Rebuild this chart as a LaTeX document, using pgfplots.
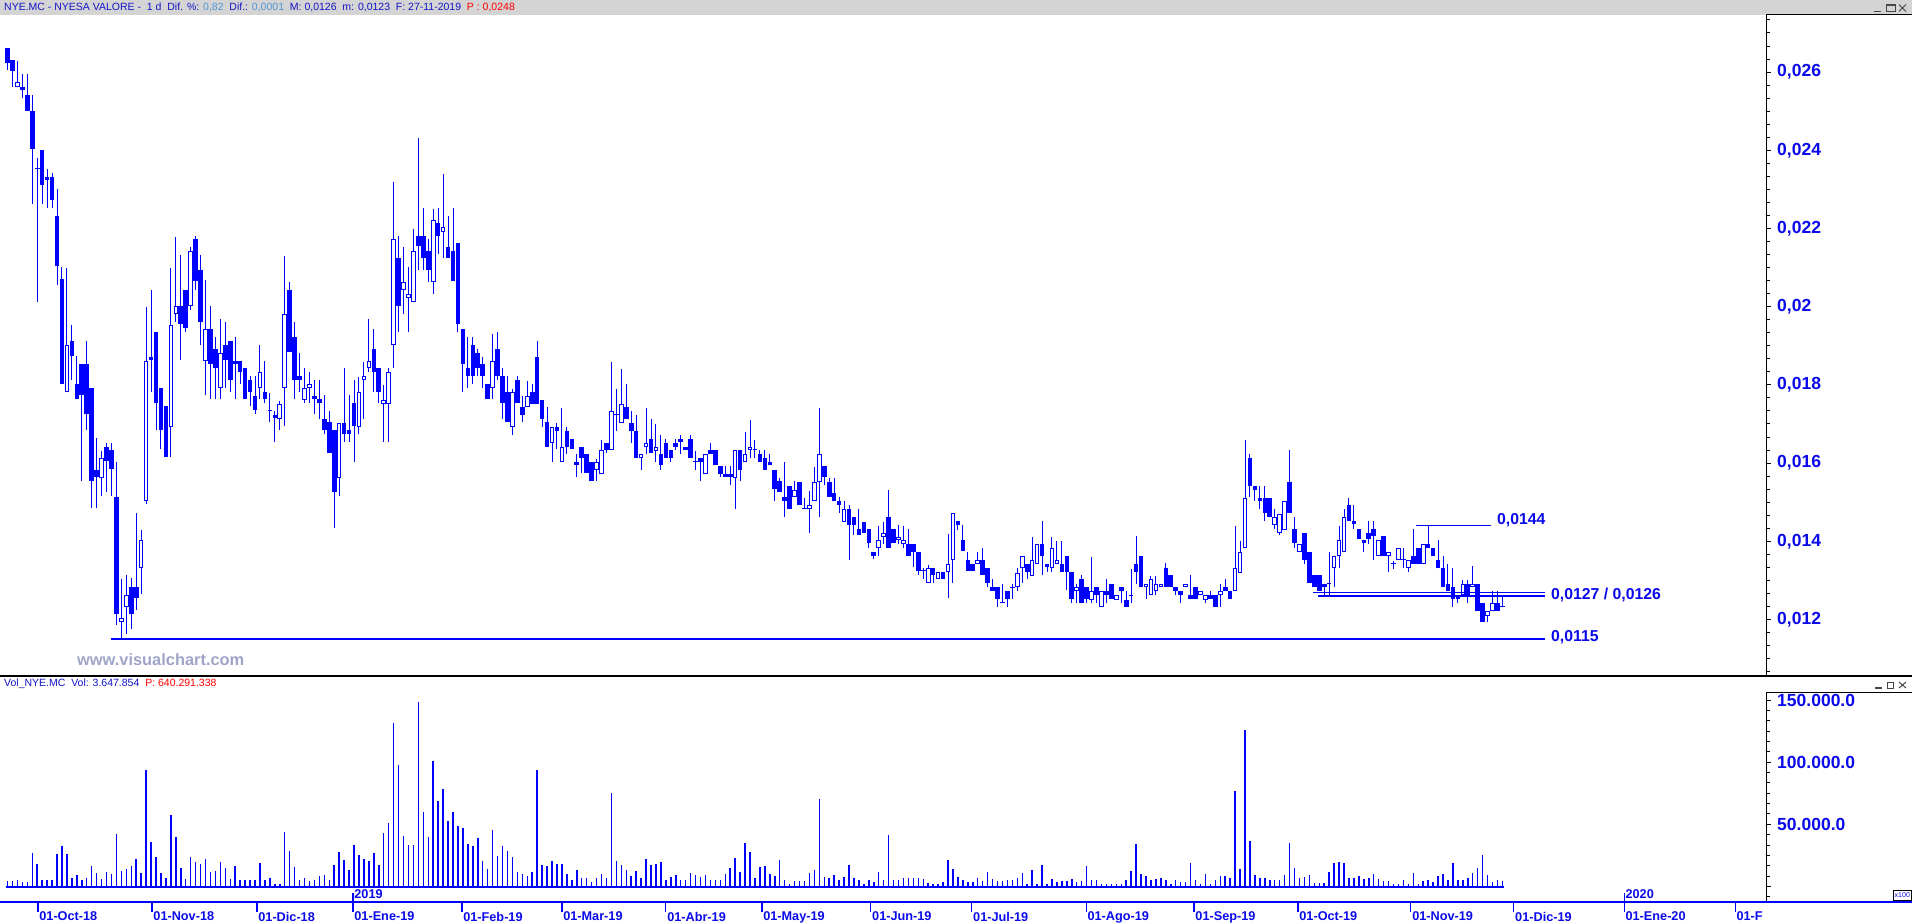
\documentclass[border=0pt]{standalone}
\usepackage{pgfplots}
\pgfplotsset{compat=1.18}
\usepackage{pgfplotstable}
\usepackage{fontspec}
\setmainfont{Liberation Sans}

\definecolor{candle}{RGB}{0,0,255}
\definecolor{lblblue}{RGB}{10,10,235}
\definecolor{hdrblue}{RGB}{20,20,200}
\definecolor{ltblue}{RGB}{80,150,215}
\definecolor{hdrgray}{RGB}{212,212,212}
\definecolor{wmark}{RGB}{160,165,200}
\definecolor{pred}{RGB}{255,0,0}
\definecolor{icon}{RGB}{70,70,70}

\newcommand\axfont{\fontsize{17.5}{18}\selectfont\bfseries}
\newcommand\datefont{\fontsize{12.7}{13}\selectfont\bfseries}
\newcommand\lvlfont{\fontsize{15.8}{16}\selectfont\bfseries}

% daily candles: index, open, high, low, close, volume (x100)
\pgfplotstableread{
i o h l c v
0 0.02662 0.02662 0.02605 0.02622 4301
1 0.02632 0.02632 0.02563 0.02604 4301
2 0.02561 0.02629 0.02561 0.02574 5376
3 0.02561 0.02594 0.02533 0.02553 3494
4 0.02541 0.02594 0.02501 0.02501 3494
5 0.02501 0.02541 0.02263 0.02403 26611
6 0.02352 0.02379 0.02012 0.02352 17741
7 0.02402 0.02402 0.02263 0.02312 4838
8 0.02332 0.02352 0.02253 0.02324 4838
9 0.02332 0.02342 0.02253 0.02273 5376
10 0.02233 0.02302 0.02056 0.02103 25805
11 0.02071 0.02101 0.01803 0.01803 32256
12 0.01781 0.02098 0.01781 0.01901 25805
13 0.01911 0.01954 0.01813 0.01873 6989
14 0.01803 0.01873 0.01763 0.01763 8870
15 0.01853 0.01853 0.01553 0.01773 5376
16 0.01853 0.01911 0.01684 0.01725 6989
17 0.01793 0.01793 0.01485 0.01553 16128
18 0.01583 0.01663 0.01485 0.01564 10752
19 0.01561 0.01630 0.01515 0.01613 6182
20 0.01641 0.01652 0.01525 0.01606 11290
21 0.01633 0.01652 0.01515 0.01584 9677
22 0.01514 0.01603 0.01186 0.01214 41933
23 0.01194 0.01303 0.01153 0.01204 12096
24 0.01232 0.01313 0.01164 0.01262 13709
25 0.01282 0.01305 0.01176 0.01214 16128
26 0.01282 0.01473 0.01224 0.01254 21773
27 0.01331 0.01429 0.01264 0.01404 10483
28 0.01503 0.02000 0.01495 0.01861 93542
29 0.01872 0.02043 0.01783 0.01864 35482
30 0.01934 0.01934 0.01684 0.01753 23386
31 0.01793 0.01793 0.01636 0.01684 10483
32 0.01745 0.01745 0.01616 0.01616 6451
33 0.01692 0.02099 0.01616 0.01954 57254
34 0.01982 0.02177 0.01962 0.02002 39514
35 0.02002 0.02132 0.01863 0.01955 14515
36 0.02043 0.02043 0.01935 0.01945 6182
37 0.02002 0.02152 0.01992 0.02142 23386
38 0.02172 0.02180 0.02043 0.02066 19354
39 0.02093 0.02132 0.01902 0.01962 17741
40 0.01861 0.02069 0.01773 0.01942 21773
41 0.01942 0.02002 0.01763 0.01854 11290
42 0.01891 0.01923 0.01763 0.01844 12096
43 0.01791 0.01969 0.01763 0.01881 19354
44 0.01901 0.01962 0.01793 0.01863 14515
45 0.01911 0.01911 0.01783 0.01813 6182
46 0.01861 0.01923 0.01763 0.01854 16128
47 0.01861 0.01861 0.01803 0.01834 4838
48 0.01843 0.01843 0.01763 0.01763 5376
49 0.01813 0.01823 0.01745 0.01783 5376
50 0.01772 0.01822 0.01725 0.01735 5376
51 0.01791 0.01901 0.01763 0.01833 18547
52 0.01782 0.01861 0.01753 0.01763 4838
53 0.01732 0.01780 0.01704 0.01732 6451
54 0.01722 0.01732 0.01654 0.01715 2150
55 0.01712 0.01760 0.01684 0.01752 2150
56 0.01791 0.02130 0.01694 0.01982 43546
57 0.02043 0.02064 0.01884 0.01884 28224
58 0.01923 0.01962 0.01763 0.01813 15322
59 0.01823 0.01881 0.01783 0.01813 5376
60 0.01761 0.01843 0.01753 0.01793 6451
61 0.01793 0.01833 0.01753 0.01803 4301
62 0.01772 0.01813 0.01725 0.01763 5376
63 0.01763 0.01813 0.01712 0.01753 8064
64 0.01712 0.01773 0.01674 0.01684 9139
65 0.01704 0.01732 0.01626 0.01626 5376
66 0.01684 0.01684 0.01434 0.01525 16934
67 0.01561 0.01702 0.01515 0.01702 27418
68 0.01702 0.01844 0.01654 0.01674 20966
69 0.01684 0.01773 0.01654 0.01674 12902
70 0.01753 0.01813 0.01603 0.01694 33062
71 0.01692 0.01820 0.01674 0.01783 24998
72 0.01812 0.01859 0.01712 0.01822 21773
73 0.01843 0.01969 0.01834 0.01861 20160
74 0.01891 0.01944 0.01783 0.01834 26611
75 0.01843 0.01843 0.01753 0.01783 16934
76 0.01752 0.01800 0.01654 0.01762 42739
77 0.01752 0.01843 0.01654 0.01833 50803
78 0.01901 0.02319 0.01844 0.02172 131443
79 0.02124 0.02182 0.01935 0.02002 97574
80 0.02043 0.02152 0.01982 0.02063 40320
81 0.02023 0.02101 0.01935 0.02033 33062
82 0.02012 0.02199 0.02012 0.02142 33062
83 0.02182 0.02432 0.02093 0.02154 148378
84 0.02182 0.02253 0.02093 0.02124 59674
85 0.02142 0.02174 0.02063 0.02093 39514
86 0.02063 0.02250 0.02033 0.02221 100800
87 0.02213 0.02253 0.02134 0.02182 68544
88 0.02190 0.02339 0.02124 0.02203 78221
89 0.02152 0.02233 0.02124 0.02124 52416
90 0.02142 0.02253 0.02065 0.02065 59674
91 0.02162 0.02162 0.01935 0.01955 48384
92 0.01944 0.01944 0.01783 0.01854 46771
93 0.01844 0.01923 0.01793 0.01823 33869
94 0.01901 0.01923 0.01803 0.01823 32256
95 0.01881 0.01891 0.01823 0.01844 38707
96 0.01854 0.01871 0.01793 0.01823 20160
97 0.01803 0.01803 0.01763 0.01763 13709
98 0.01791 0.01930 0.01763 0.01861 45158
99 0.01891 0.01934 0.01813 0.01823 24192
100 0.01823 0.01843 0.01713 0.01753 32256
101 0.01783 0.01823 0.01704 0.01704 28224
102 0.01692 0.01789 0.01672 0.01783 23386
103 0.01813 0.01823 0.01753 0.01753 11290
104 0.01743 0.01772 0.01704 0.01723 9677
105 0.01743 0.01809 0.01743 0.01772 8064
106 0.01783 0.01802 0.01751 0.01751 11290
107 0.01872 0.01912 0.01751 0.01751 93542
108 0.01762 0.01762 0.01693 0.01713 16934
109 0.01704 0.01743 0.01642 0.01642 16128
110 0.01651 0.01692 0.01604 0.01692 20160
111 0.01692 0.01702 0.01635 0.01683 17741
112 0.01602 0.01740 0.01602 0.01640 17741
113 0.01682 0.01692 0.01623 0.01642 9677
114 0.01661 0.01661 0.01635 0.01635 4838
115 0.01604 0.01623 0.01564 0.01594 12902
116 0.01640 0.01640 0.01574 0.01614 6451
117 0.01623 0.01623 0.01574 0.01574 6451
118 0.01602 0.01602 0.01553 0.01553 3226
119 0.01583 0.01611 0.01553 0.01602 6451
120 0.01571 0.01659 0.01571 0.01634 9677
121 0.01651 0.01651 0.01625 0.01634 6451
122 0.01634 0.01858 0.01634 0.01733 74995
123 0.01723 0.01789 0.01683 0.01723 20160
124 0.01702 0.01841 0.01702 0.01750 16934
125 0.01743 0.01802 0.01713 0.01713 12902
126 0.01702 0.01733 0.01652 0.01683 8064
127 0.01682 0.01723 0.01614 0.01614 12096
128 0.01612 0.01623 0.01583 0.01623 6451
129 0.01640 0.01740 0.01623 0.01651 21773
130 0.01661 0.01713 0.01625 0.01625 16934
131 0.01632 0.01700 0.01604 0.01640 17741
132 0.01623 0.01672 0.01583 0.01594 19354
133 0.01651 0.01662 0.01614 0.01614 4838
134 0.01634 0.01634 0.01604 0.01614 7258
135 0.01651 0.01662 0.01634 0.01642 8870
136 0.01662 0.01672 0.01623 0.01653 4838
137 0.01642 0.01642 0.01634 0.01634 5376
138 0.01662 0.01672 0.01614 0.01614 10483
139 0.01602 0.01631 0.01583 0.01602 8870
140 0.01614 0.01614 0.01553 0.01604 7258
141 0.01571 0.01623 0.01571 0.01623 8870
142 0.01634 0.01651 0.01623 0.01623 4838
143 0.01634 0.01634 0.01594 0.01594 5376
144 0.01593 0.01593 0.01564 0.01572 4838
145 0.01572 0.01593 0.01564 0.01564 9677
146 0.01572 0.01593 0.01543 0.01564 14515
147 0.01561 0.01634 0.01483 0.01634 22579
148 0.01634 0.01634 0.01553 0.01583 11290
149 0.01602 0.01679 0.01602 0.01623 34675
150 0.01634 0.01710 0.01614 0.01640 27418
151 0.01634 0.01659 0.01614 0.01633 6451
152 0.01623 0.01634 0.01604 0.01604 15322
153 0.01614 0.01634 0.01583 0.01583 16128
154 0.01602 0.01623 0.01594 0.01594 9677
155 0.01583 0.01583 0.01503 0.01533 8064
156 0.01553 0.01563 0.01525 0.01525 20966
157 0.01513 0.01602 0.01463 0.01504 4838
158 0.01542 0.01542 0.01483 0.01483 2150
159 0.01513 0.01553 0.01513 0.01531 4032
160 0.01551 0.01551 0.01494 0.01494 4032
161 0.01482 0.01510 0.01482 0.01482 4032
162 0.01482 0.01529 0.01422 0.01492 10483
163 0.01502 0.01591 0.01502 0.01551 12902
164 0.01551 0.01740 0.01463 0.01623 70157
165 0.01593 0.01593 0.01543 0.01564 7258
166 0.01551 0.01563 0.01514 0.01514 6451
167 0.01523 0.01561 0.01504 0.01504 8870
168 0.01502 0.01513 0.01473 0.01493 5376
169 0.01450 0.01502 0.01450 0.01482 7258
170 0.01482 0.01493 0.01352 0.01442 16934
171 0.01461 0.01461 0.01416 0.01442 6451
172 0.01431 0.01482 0.01415 0.01415 4838
173 0.01450 0.01450 0.01422 0.01422 2150
174 0.01431 0.01431 0.01384 0.01395 4838
175 0.01372 0.01372 0.01354 0.01363 3226
176 0.01382 0.01439 0.01363 0.01404 11290
177 0.01412 0.01450 0.01393 0.01421 4838
178 0.01461 0.01531 0.01384 0.01384 41126
179 0.01431 0.01431 0.01395 0.01395 5376
180 0.01404 0.01442 0.01393 0.01412 4838
181 0.01393 0.01439 0.01384 0.01404 6989
182 0.01393 0.01431 0.01363 0.01363 6989
183 0.01393 0.01393 0.01333 0.01372 6989
184 0.01372 0.01372 0.01314 0.01323 6451
185 0.01323 0.01331 0.01304 0.01323 5914
186 0.01293 0.01339 0.01293 0.01331 2957
187 0.01331 0.01331 0.01294 0.01314 1613
188 0.01304 0.01321 0.01304 0.01321 1613
189 0.01321 0.01321 0.01304 0.01304 3226
190 0.01321 0.01419 0.01254 0.01341 20966
191 0.01351 0.01472 0.01294 0.01472 13709
192 0.01452 0.01452 0.01430 0.01442 7258
193 0.01404 0.01442 0.01374 0.01374 4838
194 0.01352 0.01372 0.01323 0.01323 3226
195 0.01341 0.01341 0.01323 0.01323 3226
196 0.01342 0.01372 0.01342 0.01352 6989
197 0.01352 0.01382 0.01314 0.01314 4301
198 0.01331 0.01331 0.01284 0.01294 11558
199 0.01282 0.01304 0.01274 0.01274 6182
200 0.01282 0.01282 0.01233 0.01253 4032
201 0.01243 0.01292 0.01241 0.01241 4032
202 0.01274 0.01274 0.01233 0.01253 4838
203 0.01282 0.01292 0.01252 0.01281 5376
204 0.01282 0.01331 0.01274 0.01320 6989
205 0.01331 0.01362 0.01294 0.01362 10483
206 0.01342 0.01342 0.01304 0.01322 2150
207 0.01312 0.01412 0.01312 0.01352 12902
208 0.01341 0.01393 0.01341 0.01393 2150
209 0.01393 0.01452 0.01314 0.01362 16934
210 0.01342 0.01342 0.01322 0.01333 2150
211 0.01331 0.01412 0.01322 0.01383 6182
212 0.01342 0.01401 0.01342 0.01352 3226
213 0.01342 0.01401 0.01322 0.01322 4301
214 0.01362 0.01362 0.01275 0.01322 4301
215 0.01322 0.01322 0.01243 0.01253 6182
216 0.01272 0.01292 0.01243 0.01282 3226
217 0.01303 0.01314 0.01243 0.01243 4032
218 0.01282 0.01282 0.01243 0.01253 16128
219 0.01251 0.01360 0.01243 0.01272 5376
220 0.01282 0.01282 0.01243 0.01263 4838
221 0.01231 0.01272 0.01231 0.01272 2150
222 0.01272 0.01303 0.01243 0.01263 2150
223 0.01292 0.01292 0.01253 0.01253 2150
224 0.01251 0.01262 0.01251 0.01262 2150
225 0.01282 0.01282 0.01243 0.01274 2150
226 0.01251 0.01272 0.01233 0.01233 4838
227 0.01262 0.01328 0.01243 0.01261 12096
228 0.01341 0.01413 0.01292 0.01322 33869
229 0.01362 0.01362 0.01284 0.01284 9677
230 0.01282 0.01292 0.01253 0.01292 8064
231 0.01262 0.01312 0.01262 0.01303 5376
232 0.01272 0.01312 0.01262 0.01292 6182
233 0.01282 0.01292 0.01282 0.01292 6451
234 0.01331 0.01345 0.01284 0.01284 4838
235 0.01314 0.01314 0.01284 0.01284 2150
236 0.01282 0.01282 0.01262 0.01274 5376
237 0.01272 0.01272 0.01243 0.01263 3226
238 0.01282 0.01292 0.01282 0.01292 3226
239 0.01262 0.01314 0.01253 0.01253 18547
240 0.01282 0.01282 0.01253 0.01253 4838
241 0.01262 0.01272 0.01262 0.01272 2150
242 0.01251 0.01262 0.01243 0.01262 9677
243 0.01262 0.01272 0.01253 0.01253 2150
244 0.01262 0.01262 0.01233 0.01233 5376
245 0.01262 0.01292 0.01233 0.01272 8064
246 0.01282 0.01303 0.01272 0.01272 8064
247 0.01272 0.01272 0.01253 0.01253 6989
248 0.01272 0.01439 0.01272 0.01331 76608
249 0.01320 0.01401 0.01320 0.01372 13709
250 0.01382 0.01659 0.01382 0.01512 125798
251 0.01613 0.01623 0.01514 0.01542 36288
252 0.01542 0.01542 0.01504 0.01532 8870
253 0.01512 0.01542 0.01482 0.01504 6451
254 0.01512 0.01542 0.01453 0.01473 6989
255 0.01512 0.01512 0.01463 0.01463 5376
256 0.01441 0.01482 0.01431 0.01461 5376
257 0.01420 0.01471 0.01416 0.01471 5376
258 0.01430 0.01503 0.01430 0.01503 8870
259 0.01551 0.01633 0.01473 0.01473 34675
260 0.01431 0.01461 0.01384 0.01395 14515
261 0.01372 0.01393 0.01372 0.01393 6989
262 0.01422 0.01422 0.01343 0.01352 7258
263 0.01372 0.01372 0.01294 0.01294 8870
264 0.01314 0.01314 0.01284 0.01284 2957
265 0.01314 0.01314 0.01272 0.01272 2957
266 0.01292 0.01292 0.01262 0.01282 2957
267 0.01292 0.01372 0.01262 0.01291 11290
268 0.01331 0.01362 0.01284 0.01362 18547
269 0.01362 0.01439 0.01331 0.01403 19354
270 0.01372 0.01482 0.01372 0.01461 18547
271 0.01492 0.01512 0.01453 0.01453 6451
272 0.01452 0.01492 0.01431 0.01443 6451
273 0.01431 0.01431 0.01405 0.01405 8064
274 0.01403 0.01403 0.01373 0.01395 6182
275 0.01420 0.01452 0.01393 0.01405 6989
276 0.01431 0.01452 0.01352 0.01413 9677
277 0.01362 0.01403 0.01362 0.01403 5645
278 0.01413 0.01413 0.01362 0.01362 4032
279 0.01362 0.01372 0.01322 0.01372 4032
280 0.01343 0.01350 0.01330 0.01341 2150
281 0.01352 0.01383 0.01352 0.01383 2150
282 0.01352 0.01383 0.01331 0.01351 4838
283 0.01331 0.01352 0.01322 0.01352 2150
284 0.01362 0.01431 0.01342 0.01342 10483
285 0.01383 0.01383 0.01342 0.01342 2150
286 0.01342 0.01393 0.01342 0.01393 4032
287 0.01393 0.01441 0.01383 0.01383 4838
288 0.01383 0.01383 0.01362 0.01362 3226
289 0.01352 0.01403 0.01331 0.01331 8064
290 0.01331 0.01362 0.01284 0.01284 9677
291 0.01292 0.01342 0.01272 0.01272 4838
292 0.01282 0.01331 0.01233 0.01253 18547
293 0.01262 0.01262 0.01243 0.01253 4838
294 0.01262 0.01301 0.01262 0.01292 4838
295 0.01292 0.01301 0.01243 0.01262 6451
296 0.01282 0.01338 0.01282 0.01292 10483
297 0.01292 0.01292 0.01222 0.01222 14515
298 0.01243 0.01243 0.01194 0.01194 24998
299 0.01210 0.01222 0.01194 0.01222 8870
300 0.01221 0.01272 0.01221 0.01243 3226
301 0.01243 0.01272 0.01222 0.01222 4838
302 0.01232 0.01262 0.01231 0.01231 4032
}\nye

\begin{document}
\begin{tikzpicture}
\fill[white] (0pt,0pt) rectangle (1912pt,922pt);

% title bar
\fill[hdrgray] (0pt,907pt) rectangle (1912pt,922pt);
\node[anchor=base west, inner sep=0pt, font=\fontsize{10.5}{12}\selectfont] at (4pt,911pt)
  {\textcolor{hdrblue}{NYE.MC - NYESA VALORE -\ \ 1 d\ \ Dif. \%: }\textcolor{ltblue}{0,82}\ \ \textcolor{hdrblue}{Dif.: }\textcolor{ltblue}{0,0001}\ \ \textcolor{hdrblue}{M: 0,0126\ \ m: 0,0123\ \ F: 27-11-2019}\ \ \textcolor{pred}{P : 0,0248}};
\draw[icon, line width=1.2pt] (1874pt,910.5pt) -- (1881pt,910.5pt);
\draw[icon, line width=0.8pt] (1886.5pt,910.5pt) rectangle (1895.5pt,917.5pt);
\draw[icon, line width=1.6pt] (1886.5pt,917pt) -- (1895.5pt,917pt);
\draw[icon, line width=1pt] (1899pt,910.5pt) -- (1906pt,917.5pt) (1899pt,917.5pt) -- (1906pt,910.5pt);

% price panel
\begin{axis}[
  at={(0pt,246pt)}, anchor=south west, scale only axis,
  width=1766pt, height=661pt,
  xmin=-1.515, xmax=355.25, ymin=0.010555, ymax=0.02746,
  axis x line=none, axis y line*=right,
  y axis line style={black, line width=1pt},
  tick align=outside, major tick length=5pt, minor tick length=4pt,
  tick style={black, line width=1pt},
  ytick={0.012,0.014,0.016,0.018,0.020,0.022,0.024,0.026},
  yticklabels={{0,012},{0,014},{0,016},{0,018},{0,02},{0,022},{0,024},{0,026}},
  minor ytick={0.010666667,0.011,...,0.0274},
  yticklabel style={font=\axfont, text=lblblue, anchor=west, inner sep=0pt, xshift=6pt},
  scaled y ticks=false,
  clip bounding box=upper bound,
]
% wicks
\addplot[draw=none, error bars/.cd, y dir=plus, y explicit, error mark=none,
  error bar style={draw=candle, line width=1pt}]
  table[x=i, y=l, y error plus expr={\thisrow{h}-\thisrow{l}}] {\nye};
% bodies
\addplot[draw=none, error bars/.cd, y dir=plus, y explicit, error mark=none,
  error bar style={draw=candle, line width=4.6pt}]
  table[x=i, y expr={min(\thisrow{o},\thisrow{c})},
        y error plus expr={max(abs(\thisrow{o}-\thisrow{c}),0.0000256)}] {\nye};
% white inside of rising candles (zero length for falling ones)
\addplot[draw=none, error bars/.cd, y dir=plus, y explicit, error mark=none,
  error bar style={draw=white, line width=2.6pt}]
  table[x=i, y expr={\thisrow{o}+0.0000256},
        y error plus expr={max(\thisrow{c}-\thisrow{o}-0.0000512,0)}] {\nye};
% support / resistance levels
\addplot[candle, line width=1.2pt] coordinates {(284.5,0.0144) (299.7,0.0144)};
\addplot[candle, line width=1.2pt] coordinates {(263.7,0.0127) (310.6,0.0127)};
\addplot[candle, line width=1.2pt] coordinates {(264.7,0.0126) (310.6,0.0126)};
\addplot[candle, line width=1.2pt] coordinates {(20.9,0.0115) (310.6,0.0115)};
\node[anchor=base west, inner sep=0pt, font=\lvlfont, text=lblblue, yshift=1.1pt] at (axis cs:300.9,0.0144) {0,0144};
\node[anchor=base west, inner sep=0pt, font=\lvlfont, text=lblblue, yshift=-3.6pt] at (axis cs:311.8,0.0126) {0,0127 / 0,0126};
\node[anchor=base west, inner sep=0pt, font=\lvlfont, text=lblblue, yshift=-2.6pt] at (axis cs:311.8,0.0115) {0,0115};
\end{axis}

\node[anchor=base west, inner sep=0pt, font=\fontsize{16.4}{17}\selectfont\bfseries, text=wmark] at (77pt,256.3pt) {www.visualchart.com};

% panel separators
\draw[black, line width=1pt] (1766pt,907pt) -- (1912pt,907pt);
\draw[black, line width=1.3pt] (0pt,246pt) -- (1912pt,246pt);
\draw[black, line width=1pt] (1766pt,230pt) -- (1912pt,230pt);

% volume header
\node[anchor=base west, inner sep=0pt, font=\fontsize{10.5}{12}\selectfont] at (4pt,235.4pt)
  {\textcolor{hdrblue}{Vol\_NYE.MC\ \ Vol: 3.647.854}\ \ \textcolor{pred}{P: 640.291.338}};
\begin{scope}[yshift=-676.5pt]
\draw[icon, line width=1.2pt] (1875pt,910.5pt) -- (1882pt,910.5pt);
\draw[icon, line width=0.8pt] (1887pt,910.5pt) rectangle (1893.5pt,916.5pt);
\draw[icon, line width=1.4pt] (1887pt,916pt) -- (1893.5pt,916pt);
\draw[icon, line width=1pt] (1899pt,910.5pt) -- (1906pt,916.5pt) (1899pt,916.5pt) -- (1906pt,910.5pt);
\end{scope}

% volume panel
\begin{axis}[
  at={(0pt,20pt)}, anchor=south west, scale only axis,
  width=1766pt, height=210pt,
  xmin=-1.515, xmax=355.25, ymin=-12467, ymax=156436,
  axis x line=none, axis y line*=right,
  y axis line style={black, line width=1pt},
  tick align=outside, major tick length=5pt, minor tick length=4pt,
  tick style={black, line width=1pt},
  ytick={0,50000,100000,150000},
  yticklabels={,50.000.0,100.000.0,150.000.0},
  minor ytick={-8333.333,0,...,155000},
  yticklabel style={font=\axfont, text=lblblue, anchor=west, inner sep=0pt, xshift=6pt},
  scaled y ticks=false,
  clip bounding box=upper bound,
]
\addplot[draw=none, error bars/.cd, y dir=plus, y explicit, error mark=none,
  error bar style={draw=candle, line width=1.5pt}]
  table[x=i, y expr=0, y error plus=v] {\nye};
\draw[candle, line width=2pt] (axis cs:-0.4,0) -- (axis cs:302.4,0);
\end{axis}

% date axis
\begin{axis}[
  at={(0pt,20pt)}, anchor=south west, scale only axis,
  width=1766pt, height=10pt,
  xmin=-1.515, xmax=355.25, ymin=0, ymax=1,
  axis y line=none, axis x line*=bottom,
  x axis line style={candle, line width=1.3pt},
  tick align=outside, major tick length=9.7pt,
  tick style={candle, line width=1.2pt},
  xtick={6.16,29.2,50.4,69.8,91.8,112.0,133.0,152.4,174.4,194.8,217.9,239.7,260.7,283.5,304.3,326.6,349.0},
  xticklabels={01-Oct-18,01-Nov-18,01-Dic-18,01-Ene-19,01-Feb-19,01-Mar-19,01-Abr-19,01-May-19,01-Jun-19,01-Jul-19,01-Ago-19,01-Sep-19,01-Oct-19,01-Nov-19,01-Dic-19,01-Ene-20,01-F},
  xticklabel style={font=\datefont, text=lblblue, anchor=north west, inner sep=0pt, xshift=1.2pt},
  clip=false,
]
\addplot[draw=none] coordinates {(0,0.5) (300,0.5)};
\draw[candle, line width=1.2pt] (axis cs:69.8,0) -- ++(0pt,9.5pt);
\draw[candle, line width=1.2pt] (axis cs:326.6,0) -- ++(0pt,9.5pt);
\node[anchor=base west, inner sep=0pt, font=\datefont, text=lblblue, xshift=1.2pt, yshift=4pt] at (axis cs:69.8,0) {2019};
\node[anchor=base west, inner sep=0pt, font=\datefont, text=lblblue, xshift=1.2pt, yshift=4pt] at (axis cs:326.6,0) {2020};
\end{axis}
\draw[candle, line width=1.3pt] (1766pt,20pt) -- (1912pt,20pt);

% scale marker
\draw[black, line width=0.6pt, fill=white] (1893pt,22pt) rectangle (1911.5pt,32pt);
\node[inner sep=0pt, font=\fontsize{7}{7}\selectfont, text=lblblue] at (1902.3pt,27pt) {x100};

\pgfresetboundingbox
\path[use as bounding box] (0pt,0pt) rectangle (1912pt,922pt);
\end{tikzpicture}
\end{document}
